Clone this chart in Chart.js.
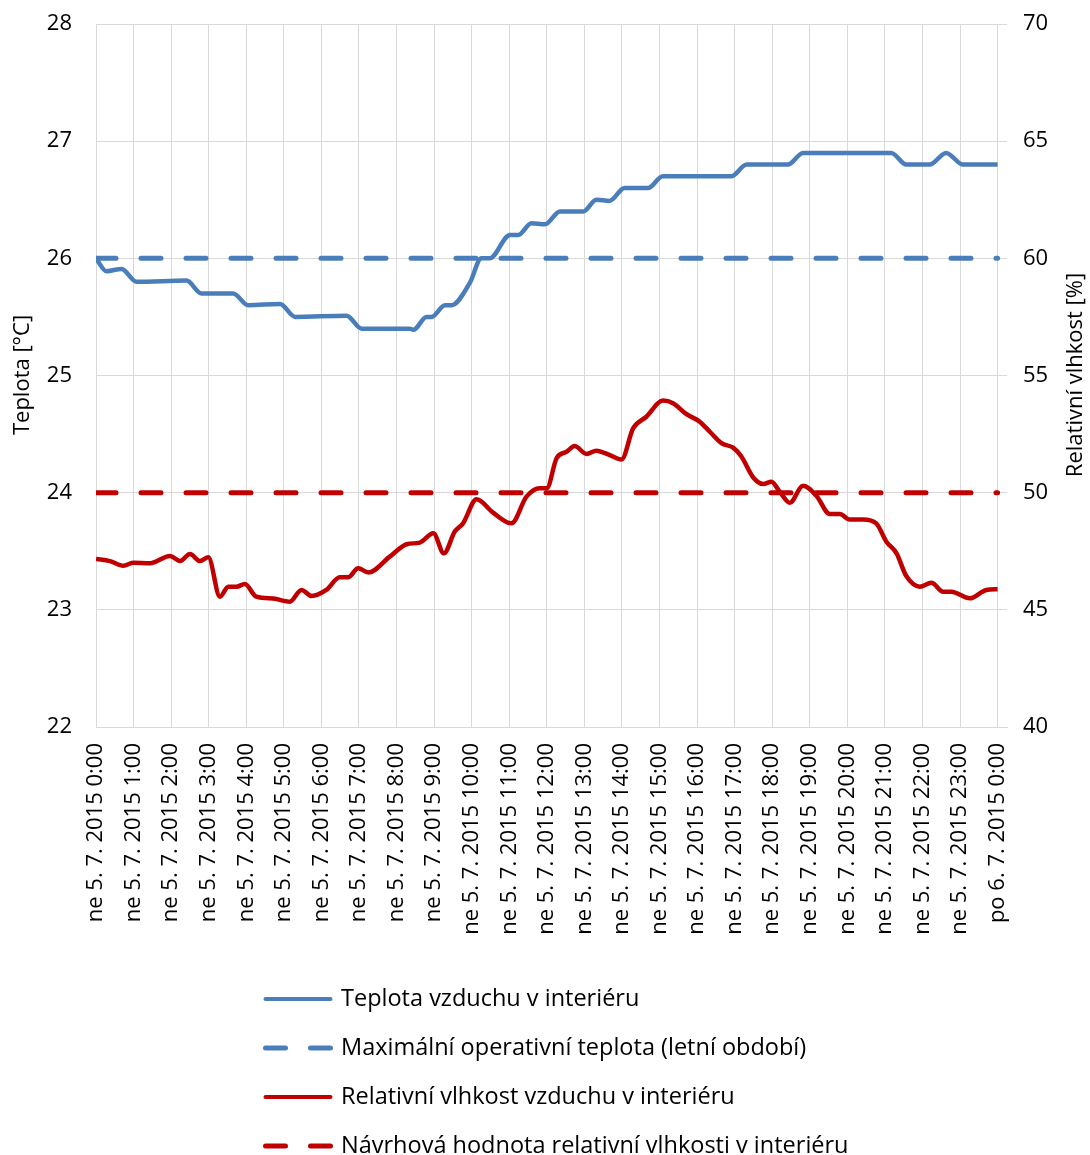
<!DOCTYPE html>
<html>
<head>
<meta charset="utf-8">
<script src="https://cdn.jsdelivr.net/npm/chart.js@4.4.1/dist/chart.umd.min.js"></script>
<style>
  html, body { margin: 0; padding: 0; background: #fff; }
  #wrap { width: 1090px; height: 1155px; }
</style>
</head>
<body>
<div id="wrap"><canvas id="chart" width="1090" height="1155"></canvas></div>
<script>
// hour tick labels (0:00 .. next day 0:00)
const hourLabels = [
  'ne 5. 7. 2015 0:00', 'ne 5. 7. 2015 1:00', 'ne 5. 7. 2015 2:00', 'ne 5. 7. 2015 3:00',
  'ne 5. 7. 2015 4:00', 'ne 5. 7. 2015 5:00', 'ne 5. 7. 2015 6:00', 'ne 5. 7. 2015 7:00',
  'ne 5. 7. 2015 8:00', 'ne 5. 7. 2015 9:00', 'ne 5. 7. 2015 10:00', 'ne 5. 7. 2015 11:00',
  'ne 5. 7. 2015 12:00', 'ne 5. 7. 2015 13:00', 'ne 5. 7. 2015 14:00', 'ne 5. 7. 2015 15:00',
  'ne 5. 7. 2015 16:00', 'ne 5. 7. 2015 17:00', 'ne 5. 7. 2015 18:00', 'ne 5. 7. 2015 19:00',
  'ne 5. 7. 2015 20:00', 'ne 5. 7. 2015 21:00', 'ne 5. 7. 2015 22:00', 'ne 5. 7. 2015 23:00',
  'po 6. 7. 2015 0:00'
];

// indoor air temperature [°C]
const tempHours = [0, 0.28, 0.68, 1.08, 2.41, 2.81, 3.65, 4.05, 4.9, 5.3, 6.67, 7.07, 8.35, 8.45,
  8.8, 8.93, 9.29, 9.46, 9.95, 10.26, 10.48, 11.02, 11.24, 11.59, 11.95, 12.35, 12.97, 13.32,
  13.67, 14.07, 14.69, 15.09, 16.91, 17.32, 18.42, 18.82, 21.17, 21.57, 22.19, 22.63, 23.08, 24];
const tempValues = [26.0, 25.89, 25.91, 25.8, 25.81, 25.7, 25.7, 25.6, 25.61, 25.5, 25.51, 25.4, 25.4, 25.39,
  25.5, 25.5, 25.6, 25.6, 25.79, 26.0, 26.0, 26.2, 26.2, 26.3, 26.29, 26.4, 26.4, 26.5,
  26.49, 26.6, 26.6, 26.7, 26.7, 26.8, 26.8, 26.9, 26.9, 26.8, 26.8, 26.9, 26.8, 26.8];

// indoor relative humidity [%]
const rhHours = [0, 0.37, 0.73, 0.99, 1.44, 1.97, 2.24, 2.5, 2.77, 2.99, 3.3, 3.52, 3.74, 3.96,
  4.27, 4.72, 5.16, 5.47, 5.74, 6.13, 6.49, 6.71, 6.98, 7.25, 7.82, 8.27, 8.62, 8.98, 9.26, 9.55,
  9.77, 10.13, 10.57, 11.06, 11.46, 11.81, 12.0, 12.26, 12.53, 12.74, 13.06, 13.32, 13.68, 13.99,
  14.3, 14.65, 15.09, 15.36, 15.71, 16.07, 16.34, 16.65, 16.96, 17.18, 17.49, 17.76, 17.98, 18.2,
  18.47, 18.82, 19.18, 19.53, 19.8, 20.06, 20.42, 20.77, 21.04, 21.31, 21.57, 21.93, 22.24, 22.55,
  22.77, 23.26, 23.7, 24.0];
const rhValues = [47.17, 47.08, 46.88, 47.01, 46.99, 47.3, 47.08, 47.38, 47.08, 47.24, 45.56, 45.99, 45.99, 46.1,
  45.56, 45.48, 45.35, 45.85, 45.59, 45.85, 46.39, 46.39, 46.77, 46.59, 47.27, 47.8, 47.87, 48.27, 47.41, 48.34,
  48.69, 49.72, 49.15, 48.69, 49.83, 50.19, 50.19, 51.47, 51.75, 51.99, 51.65, 51.79, 51.6, 51.42,
  52.75, 53.24, 53.93, 53.82, 53.36, 53.03, 52.6, 52.11, 51.92, 51.54, 50.66, 50.37, 50.47, 50.04,
  49.57, 50.29, 49.86, 49.09, 49.09, 48.86, 48.86, 48.69, 47.91, 47.41, 46.44, 45.99, 46.16, 45.77,
  45.77, 45.49, 45.85, 45.88];

// limit lines
const limitHours = [0, 24];
const maxOperativeTemp = [26, 26];
const designHumidity = [50, 50];

const BLUE = '#4A7EBB';
const RED = '#C00000';
const GRID = '#D9D9D9';
const FONT = '"Open Sans", sans-serif';
const FONT_SIZE = 22;

const pts = (xs, ys) => xs.map((x, i) => ({ x: x, y: ys[i] }));

// keep the plot box fixed: no extra room for half-height tick labels
const noPadding = (scale) => {
  scale.paddingTop = 0;
  scale.paddingBottom = 0;
  scale.paddingLeft = 0;
  scale.paddingRight = 0;
};

// axis titles and a one-item-per-row legend under the axis labels
const overlay = {
  id: 'overlay',
  afterDraw(chart) {
    const ctx = chart.ctx;
    ctx.save();
    ctx.fillStyle = '#000';
    ctx.font = FONT_SIZE + 'px ' + FONT;
    ctx.textAlign = 'center';
    ctx.textBaseline = 'middle';
    [[23, 'Teplota [°C]'], [1076, 'Relativní vlhkost [%]']].forEach(([x, text]) => {
      ctx.save();
      ctx.translate(x, 375);
      ctx.rotate(-Math.PI / 2);
      ctx.fillText(text, 0, 0);
      ctx.restore();
    });

    ctx.textAlign = 'left';
    ctx.font = '23.5px ' + FONT;
    chart.data.datasets.forEach((ds, i) => {
      const y = 999 + i * 49;
      ctx.strokeStyle = ds.borderColor;
      ctx.lineCap = 'round';
      if (ds.borderDash) {
        ctx.lineWidth = 5;
        ctx.setLineDash([20, 25]);
      } else {
        ctx.lineWidth = 4;
        ctx.setLineDash([]);
      }
      ctx.beginPath();
      ctx.moveTo(265.5, y);
      ctx.lineTo(330.5, y);
      ctx.stroke();
      ctx.fillText(ds.label, 341, y);
    });
    ctx.restore();
  }
};

new Chart(document.getElementById('chart'), {
  type: 'line',
  data: {
    datasets: [
      {
        label: 'Teplota vzduchu v interiéru',
        data: pts(tempHours, tempValues),
        yAxisID: 'y',
        borderColor: BLUE,
        borderWidth: 4.5,
        cubicInterpolationMode: 'monotone',
        pointRadius: 0
      },
      {
        label: 'Maximální operativní teplota (letní období)',
        data: pts(limitHours, maxOperativeTemp),
        yAxisID: 'y',
        borderColor: BLUE,
        borderWidth: 5,
        borderDash: [20, 25],
        borderCapStyle: 'round',
        pointRadius: 0
      },
      {
        label: 'Relativní vlhkost vzduchu v interiéru',
        data: pts(rhHours, rhValues),
        yAxisID: 'y1',
        borderColor: RED,
        borderWidth: 4.5,
        cubicInterpolationMode: 'monotone',
        pointRadius: 0
      },
      {
        label: 'Návrhová hodnota relativní vlhkosti v interiéru',
        data: pts(limitHours, designHumidity),
        yAxisID: 'y1',
        borderColor: RED,
        borderWidth: 5,
        borderDash: [20, 25],
        borderCapStyle: 'round',
        pointRadius: 0
      }
    ]
  },
  options: {
    responsive: false,
    animation: false,
    layout: { padding: { top: 24, left: 0, right: 0, bottom: 0 } },
    plugins: {
      legend: { display: false },
      tooltip: { enabled: false }
    },
    scales: {
      x: {
        type: 'linear',
        min: 0,
        max: 24.25,
        // one tick per hour, the axis runs a little past the last one
        afterBuildTicks: (scale) => {
          scale.ticks = hourLabels.map((_, i) => ({ value: i }));
        },
        afterFit: (scale) => {
          scale.height = 1155 - 727;
          noPadding(scale);
        },
        grid: { color: GRID, drawTicks: false },
        border: { color: GRID },
        ticks: {
          autoSkip: false,
          maxRotation: 90,
          minRotation: 90,
          padding: 16,
          color: '#000',
          font: { family: FONT, size: FONT_SIZE },
          callback: (value) => hourLabels[value] || ''
        }
      },
      y: {
        position: 'left',
        min: 22,
        max: 28,
        afterFit: (scale) => {
          scale.width = 96;
          noPadding(scale);
        },
        grid: { color: GRID, drawTicks: false },
        border: { color: GRID },
        ticks: {
          stepSize: 1,
          padding: 24,
          color: '#000',
          font: { family: FONT, size: FONT_SIZE }
        }
      },
      y1: {
        position: 'right',
        min: 40,
        max: 70,
        afterFit: (scale) => {
          scale.width = 1090 - 1007;
          noPadding(scale);
        },
        grid: { drawOnChartArea: false, drawTicks: false },
        border: { display: false },
        ticks: {
          stepSize: 5,
          padding: 16,
          color: '#000',
          font: { family: FONT, size: FONT_SIZE }
        }
      }
    }
  },
  plugins: [overlay]
});
</script>
</body>
</html>
